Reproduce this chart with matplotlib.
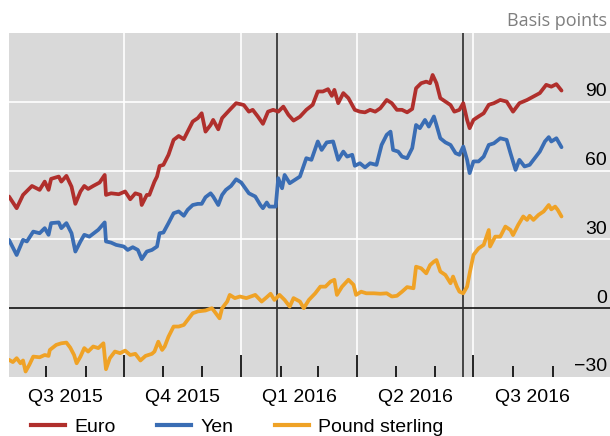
import matplotlib
matplotlib.use('Agg')
import matplotlib.pyplot as plt
import matplotlib.dates as mdates
from matplotlib.ticker import FixedLocator
from matplotlib.lines import Line2D
import pandas as pd

# ==================== DATA ====================
START = pd.Timestamp('2015-07-01')

# days since 1 July 2015, values in basis points
euro_days = [2, 8, 13, 20, 26, 30, 33, 35, 41, 43, 47, 51, 54, 58, 61, 64, 68, 73, 77, 78,
             82, 88, 93, 97, 101, 105, 106, 110, 112, 116, 118, 120, 123, 127, 131, 135, 139,
             142, 146, 150, 153, 156, 160, 162, 166, 169, 175, 180, 186, 190, 193, 197, 201,
             205, 209, 213, 217, 221, 225, 230, 235, 240, 244, 248, 252, 255, 257, 260, 264,
             268, 273, 277, 281, 285, 289, 293, 298, 302, 306, 310, 314, 318, 321, 325, 329,
             332, 334, 337, 340, 344, 348, 351, 355, 358, 361, 363, 366, 370, 374, 378, 382,
             387, 392, 397, 402, 408, 413, 418, 423, 427, 431, 435]
euro_bp = [48.7, 43.6, 49.4, 53.3, 51.6, 55.2, 51.6, 56.4, 57.4, 55.2, 57.7, 53.0, 45.5, 50.9,
           53.3, 52.0, 53.3, 54.8, 58.1, 49.4, 50.1, 49.7, 50.9, 47.5, 50.1, 49.4, 45.0, 49.4,
           49.4, 55.2, 57.4, 62.0, 62.5, 66.9, 73.4, 75.1, 73.7, 77.0, 81.4, 82.9, 85.0, 77.0,
           79.9, 82.1, 78.0, 82.9, 86.5, 89.4, 88.6, 85.7, 86.5, 83.6, 80.4, 85.7, 86.5, 85.7,
           87.9, 84.3, 81.8, 83.5, 86.5, 88.7, 94.5, 94.5, 95.5, 92.6, 95.2, 89.4, 93.8, 91.6,
           86.5, 85.7, 85.4, 86.5, 85.7, 87.2, 90.8, 89.4, 86.5, 86.5, 85.4, 86.9, 95.9, 98.1,
           98.8, 98.1, 101.7, 98.1, 91.6, 90.1, 88.6, 85.7, 86.5, 89.4, 82.1, 78.5, 82.1, 83.6,
           85.0, 88.7, 89.4, 90.8, 90.1, 85.7, 89.4, 90.8, 92.3, 93.8, 97.4, 96.6, 97.7, 94.9]

yen_days = [2, 8, 13, 16, 21, 26, 30, 33, 35, 41, 43, 47, 51, 54, 58, 61, 65, 72, 77, 78,
            82, 86, 92, 95, 99, 103, 106, 110, 114, 118, 120, 123, 127, 131, 135, 139, 142,
            146, 150, 153, 156, 160, 162, 166, 169, 172, 176, 180, 184, 190, 195, 199, 201,
            204, 206, 211, 213, 216, 218, 222, 230, 235, 239, 244, 247, 251, 256, 260, 264,
            267, 271, 273, 277, 281, 285, 290, 294, 298, 301, 303, 307, 310, 314, 318, 321,
            324, 328, 331, 335, 337, 340, 344, 348, 352, 355, 358, 361, 363, 366, 370, 374,
            378, 382, 387, 392, 395, 399, 402, 406, 410, 414, 418, 422, 425, 427, 431, 435]
yen_bp = [29.8, 23.2, 29.8, 29.1, 33.4, 32.7, 34.9, 32.0, 37.1, 37.4, 34.9, 37.1, 32.7, 24.7,
          29.1, 32.0, 31.2, 34.2, 37.4, 29.1, 28.6, 27.6, 26.9, 25.4, 26.6, 25.4, 21.4, 24.7,
          25.4, 26.9, 32.7, 33.0, 37.1, 41.4, 42.2, 40.3, 42.9, 45.0, 45.5, 45.5, 48.4, 50.1,
          48.7, 45.0, 49.4, 51.6, 53.3, 56.2, 54.8, 50.1, 48.7, 45.0, 43.6, 46.1, 44.3, 44.3,
          56.7, 52.3, 58.1, 54.5, 57.4, 65.4, 64.7, 72.7, 69.0, 72.3, 72.7, 64.7, 68.3, 66.1,
          66.9, 62.1, 63.2, 61.4, 63.2, 62.5, 71.2, 75.6, 77.0, 69.0, 68.3, 66.1, 65.4, 69.8,
          79.9, 78.5, 82.1, 79.2, 83.6, 79.9, 74.1, 72.3, 71.2, 67.6, 66.9, 70.5, 64.7, 58.9,
          64.0, 64.0, 66.1, 71.2, 71.9, 74.1, 73.4, 67.6, 60.3, 64.7, 61.8, 62.5, 65.4, 68.3,
          72.7, 74.6, 72.7, 74.1, 70.2]

gbp_days = [2, 5, 8, 11, 13, 15, 18, 21, 26, 30, 33, 34, 39, 43, 47, 50, 53, 55, 58, 61,
            64, 68, 72, 76, 78, 81, 85, 89, 93, 97, 101, 105, 109, 114, 116, 119, 122, 124,
            127, 129, 131, 135, 139, 142, 146, 150, 156, 161, 163, 167, 169, 173, 175, 179,
            183, 188, 195, 200, 204, 207, 210, 214, 218, 222, 225, 230, 233, 237, 242, 246,
            250, 254, 257, 259, 263, 268, 272, 274, 278, 282, 288, 293, 298, 302, 306, 310,
            314, 319, 321, 325, 329, 332, 335, 337, 340, 344, 348, 350, 353, 355, 358, 361,
            363, 366, 370, 374, 378, 379, 383, 387, 391, 395, 397, 401, 405, 408, 410, 413,
            417, 421, 425, 427, 430, 432, 435]
gbp_bp = [-22.5, -23.5, -21.8, -24.0, -22.8, -27.6, -24.6, -21.1, -21.4, -20.4, -20.8, -18.2,
          -16.0, -15.3, -15.0, -17.2, -20.4, -24.0, -21.1, -17.4, -18.9, -16.7, -17.4, -15.3,
          -26.6, -21.8, -18.9, -19.6, -18.5, -20.4, -19.9, -22.8, -20.8, -19.9, -18.9, -14.6,
          -18.2, -16.7, -12.4, -10.2, -8.0, -8.0, -7.3, -5.1, -2.2, -1.4, -1.0, 0.0, -1.4,
          -4.4, 0.0, 2.9, 5.8, 4.4, 5.1, 4.4, 5.8, 2.9, 4.8, 6.3, 3.6, 5.8, 3.6, 0.7, 4.4, 2.9,
          0.0, 3.6, 6.5, 9.4, 9.4, 11.6, 12.4, 5.8, 9.4, 12.4, 10.2, 5.8, 7.2, 6.5, 6.5, 6.3,
          6.5, 5.1, 5.4, 7.2, 9.2, 8.7, 18.1, 17.4, 15.2, 18.8, 20.3, 21.0, 16.0, 14.5, 10.9,
          13.8, 9.4, 7.2, 6.5, 9.4, 15.2, 23.2, 26.1, 27.6, 34.1, 26.9, 31.2, 31.2, 35.6, 34.1,
          31.9, 36.3, 40.0, 38.5, 40.3, 38.5, 40.7, 42.2, 45.0, 43.1, 44.3, 42.9, 40.0]

series_names = ['Euro', 'Yen', 'Pound sterling']
series_colors = ['#b02f2c', '#3a6db4', '#efa226']

event_dates = ['2016-01-29', '2016-06-23']
quarter_starts = ['2015-07-01', '2015-10-01', '2016-01-01', '2016-04-01', '2016-07-01', '2016-10-01']
quarter_labels = ['Q3 2015', 'Q4 2015', 'Q1 2016', 'Q2 2016', 'Q3 2016']
month_ticks = pd.date_range('2015-08-01', '2016-09-01', freq='MS')
y_labels = [-30, 0, 30, 60, 90]


def to_dates(days):
    return START + pd.to_timedelta(days, unit='D')


# ==================== PLOT ====================
plt.rcParams['font.family'] = ['Liberation Sans', 'DejaVu Sans']

fig = plt.figure(figsize=(6.1, 4.36), dpi=100)
ax = fig.add_axes([9 / 610, 59 / 436, 601 / 610, 344 / 436])
ax.set_facecolor('#d9d9d9')
for s in ax.spines.values():
    s.set_visible(False)

ax.set_xlim(to_dates([2])[0], to_dates([473])[0])
ax.set_ylim(-30, 120)

# grid
for v in [30, 60, 90]:
    ax.axhline(v, color='white', lw=1.2, zorder=1)
q_dates = pd.to_datetime(quarter_starts)
for d in q_dates[1:-1]:
    ax.axvline(d, color='white', lw=1.2, zorder=1)
ax.axhline(0, color='black', lw=1.1, zorder=2)
for d in pd.to_datetime(event_dates):
    ax.axvline(d, color='#2b2b2b', lw=1.2, zorder=2)

all_days = [euro_days, yen_days, gbp_days]
all_vals = [euro_bp, yen_bp, gbp_bp]
for days, vals, c in zip(all_days, all_vals, series_colors):
    ax.plot(to_dates(days), vals, color=c, lw=2.7, solid_joinstyle='round',
            solid_capstyle='round', zorder=3)

# x ticks: months (short) and quarters (long), drawn inside
ax.xaxis.set_major_locator(FixedLocator(mdates.date2num(q_dates[1:-1])))
ax.xaxis.set_minor_locator(FixedLocator(mdates.date2num(month_ticks)))
ax.tick_params(axis='x', which='major', direction='in', length=16, width=1.2,
               color='black', labelbottom=False)
ax.tick_params(axis='x', which='minor', direction='in', length=8, width=1.2,
               color='black', labelbottom=False)
ax.set_yticks([])

for a, b, lab in zip(q_dates[:-1], q_dates[1:], quarter_labels):
    mid = a + (b - a) / 2
    ax.annotate(lab, xy=(mid, 0), xycoords=('data', 'axes fraction'),
                xytext=(0, -18), textcoords='offset points',
                ha='center', va='baseline', fontsize=14)

for v in y_labels:
    txt = f'{v}'.replace('-', '\u2212')
    ax.annotate(txt, xy=(0.995, v), xycoords=('axes fraction', 'data'),
                xytext=(0, 4), textcoords='offset points',
                ha='right', va='baseline', fontsize=14, zorder=5)

fig.text(607 / 610, (436 - 26) / 436, 'Basis points', ha='right', va='baseline',
         fontsize=13, color='#7f7f7f', family='Open Sans')

handles = [Line2D([], [], color=c, lw=3) for c in series_colors]
fig.legend(handles, series_names, loc='center left',
           bbox_to_anchor=(31 / 610, (436 - 427) / 436), ncol=3, frameon=False,
           handlelength=1.75, handletextpad=0.5, columnspacing=2.1,
           borderpad=0, borderaxespad=0, fontsize=14)

fig.savefig('out.png', dpi=100)
plt.close(fig)
